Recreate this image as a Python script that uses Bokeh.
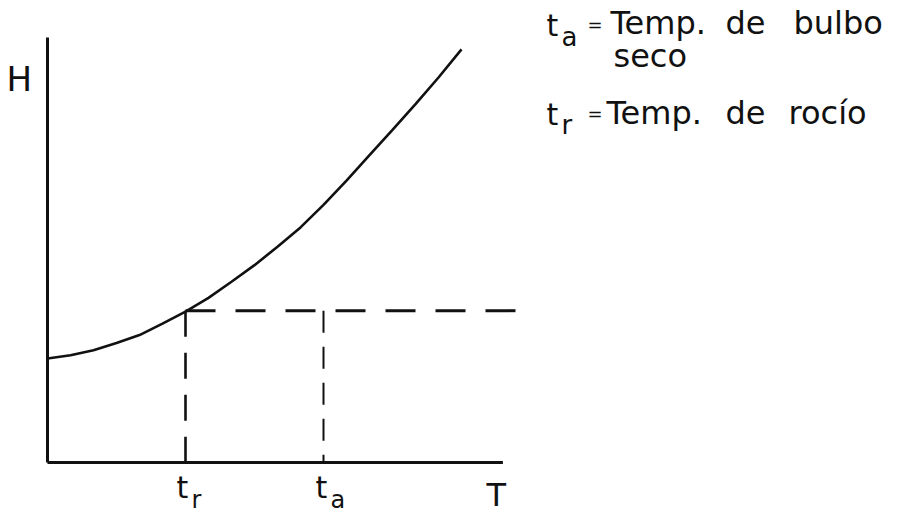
from bokeh.plotting import figure
from bokeh.models import Range1d, Label
from bokeh.embed import file_html
from bokeh.resources import INLINE

# ---- data (T and H in arbitrary diagram units) ----
T_curve = [0, 0.5, 1, 1.5, 2, 2.5, 3, 3.5, 4, 4.5, 5, 5.5, 6, 6.5, 7, 7.5, 8, 8.5, 9]
H_curve = [2.26, 2.33, 2.44, 2.60, 2.77, 3.02, 3.28, 3.58, 3.93, 4.29, 4.69, 5.11,
           5.60, 6.13, 6.68, 7.23, 7.79, 8.37, 8.98]
T_DEW = 3.0      # t_r
T_DRY = 6.0      # t_a
H_DEW = 3.30     # humidity level at the dew point
T_AXIS_END = 9.9
H_AXIS_END = 9.24
T_DASH_END = 10.5

W, H = 905, 518
UNIT = 46.0
X0, Y0 = 47, 56   # frame pixel position of the origin (from left, from bottom)

p = figure(width=W, height=H, output_backend="svg", toolbar_location=None,
           x_range=Range1d(-X0 / UNIT, (W - X0) / UNIT),
           y_range=Range1d(-Y0 / UNIT, (H - Y0) / UNIT),
           min_border=0, outline_line_color=None)
p.axis.visible = False
p.grid.visible = False
p.background_fill_color = "white"
p.border_fill_color = "white"

ink = "#111111"

# axes
p.line([0, 0], [0, H_AXIS_END], line_color=ink, line_width=3)
p.line([0, T_AXIS_END], [0, 0], line_color=ink, line_width=3)

# saturation curve
p.line(T_curve, H_curve, line_color=ink, line_width=2.6)

# dashed construction lines
p.line([T_DEW, T_DASH_END], [H_DEW, H_DEW], line_color=ink, line_width=3,
       line_dash="30 20")
p.line([T_DEW, T_DEW], [H_DEW, 0], line_color=ink, line_width=2.6,
       line_dash="26 16")
p.line([T_DRY, T_DRY], [H_DEW, 0], line_color=ink, line_width=2,
       line_dash="22 14")

FONT = "DejaVu Sans"
SHIFT = 0.35   # empirical baseline correction, in em

def sy(py, size):   # picture row of the baseline -> y from bottom
    return H - py + SHIFT * size

def lab(text, px, py, size):
    p.add_layout(Label(x=px, y=sy(py, size), x_units="screen", y_units="screen",
                       text=text, text_font=FONT, text_font_size=f"{size}px",
                       text_color=ink, text_baseline="alphabetic",
                       text_align="left"))

def tick_lab(xd, text, dx, py, size):
    p.add_layout(Label(x=xd, y=sy(py, size), x_units="data", y_units="screen",
                       text=text, x_offset=dx, text_font=FONT,
                       text_font_size=f"{size}px", text_color=ink,
                       text_baseline="alphabetic"))

# axis names
lab("H", 6, 90, 34)
lab("T", 486, 506, 32)

# tick labels under the axis
tick_lab(T_DEW, "t", -9, 497, 30)
tick_lab(T_DEW, "r", 6, 508, 24)
tick_lab(T_DRY, "t", -8, 497, 30)
tick_lab(T_DRY, "a", 7, 508, 24)

# legend text, top right
lab("t", 546, 35, 30)
lab("a", 561, 46, 26)
lab("=", 587, 30, 18)
lab("Temp.", 610, 34, 32)
lab("de", 725, 34, 32)
lab("bulbo", 793, 34, 32)
lab("seco", 613, 67, 32)

lab("t", 546, 124, 30)
lab("r", 561, 134, 26)
lab("=", 587, 119, 18)
lab("Temp.", 606, 124, 32)
lab("de", 725, 124, 32)
lab("rocío", 788, 124, 32)

open("out.html", "w").write(file_html(p, INLINE))
